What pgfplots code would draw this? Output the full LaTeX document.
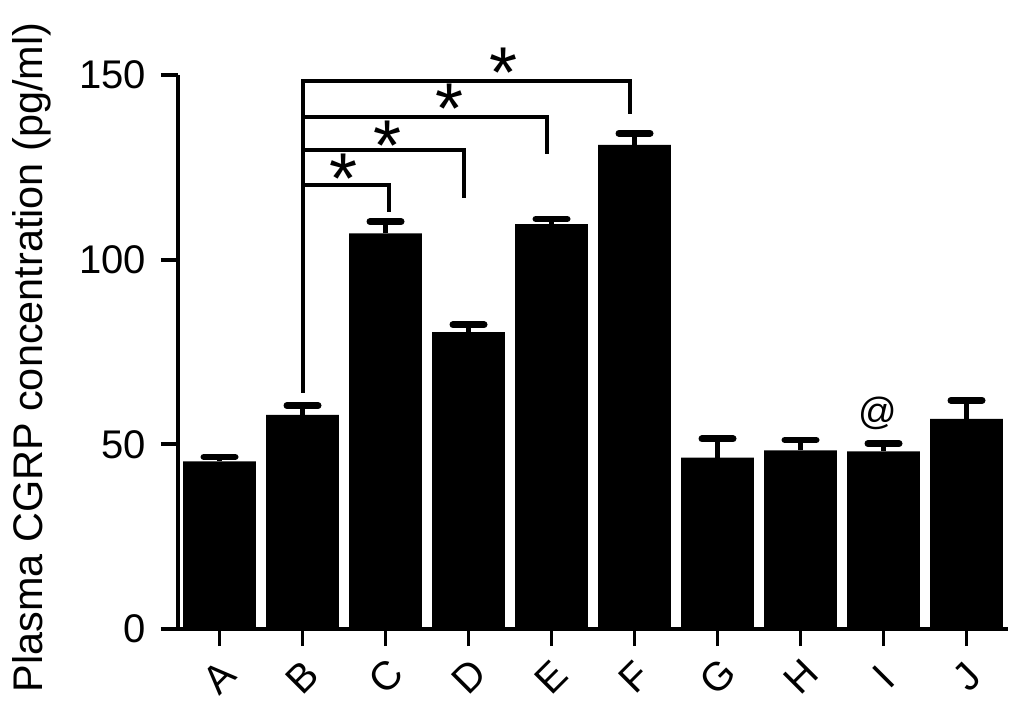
\documentclass[border=0pt]{standalone}
\usepackage{fontspec}
\setmainfont{Liberation Sans}
\usepackage{pgfplots}
\usepackage{pgfplotstable}
\pgfplotsset{compat=1.18}

% group, mean, upper error
\pgfplotstableread{
x y e
0 45.4 1.2
1 58.0 2.5
2 107.1 3.2
3 80.4 2.0
4 109.6 1.4
5 131.1 3.1
6 46.4 5.1
7 48.4 2.8
8 48.1 2.1
9 56.9 5.0
}\cgrp

\begin{document}
\begin{tikzpicture}
	\begin{axis}[
			scale only axis, width=415pt, height=277pt,
			xmin=-0.5, xmax=9.5, ymin=0, ymax=150,
			axis lines*=left,
			axis line style={line width=1.9pt, black},
			tick align=outside, major tick length=8.5pt,
			every tick/.style={line width=1.9pt, black},
			xtick={0,...,9}, xticklabels={A,B,C,D,E,F,G,H,I,J},
			ytick={0,50,100,150},
			/pgf/number format/assume math mode=true,
			ticklabel style={font=\fontsize{20}{20}\selectfont},
			xticklabel style={rotate=45, anchor=center},
			xticklabel shift=15.5pt,
			yticklabel shift=4pt,
			ylabel={Plasma CGRP concentration (pg/ml)},
			ylabel style={font=\fontsize{20.7}{20.7}\selectfont, at={(axis description cs:-0.152,0.49)}, anchor=south, inner sep=0pt},
			clip=false,
			ybar, bar width=0.876,
			]

		\addplot[fill=black, draw=none,
			error bars/.cd, y dir=plus, y explicit,
			error bar style={line width=2.5pt, draw=black},
			error mark=|,
			error mark options={line width=3.4pt, mark size=7.8pt, draw=black, line cap=round}]
			table[x=x, y=y, y error=e] {\cgrp};

		\draw[line width=2pt] (axis cs:1,64) -- (axis cs:1,148.4) -- (axis cs:4.95,148.4) -- (axis cs:4.95,139.4);
		\draw[line width=2pt] (axis cs:1,138.5) -- (axis cs:3.95,138.5) -- (axis cs:3.95,128.6);
		\draw[line width=2pt] (axis cs:1,129.6) -- (axis cs:2.95,129.6) -- (axis cs:2.95,116.8);
		\draw[line width=2pt] (axis cs:1,120.3) -- (axis cs:2.04,120.3) -- (axis cs:2.04,112.8);

		\node[font=\fontsize{36}{36}\selectfont, yshift=-5.5pt] at (axis cs:3.42,153.6) {*};
		\node[font=\fontsize{36}{36}\selectfont, yshift=-5.5pt] at (axis cs:2.77,143.8) {*};
		\node[font=\fontsize{36}{36}\selectfont, yshift=-5.5pt] at (axis cs:2.03,133.8) {*};
		\node[font=\fontsize{36}{36}\selectfont, yshift=-5.5pt] at (axis cs:1.49,124.8) {*};
		\node[font=\fontsize{19}{19}\selectfont] at (axis cs:7.93,58.5) {@};
	\end{axis}
	\pgfresetboundingbox
	\path[use as bounding box] ([xshift=-89pt,yshift=-42pt]current axis.south west) rectangle ([xshift=7.5pt,yshift=37.5pt]current axis.north east);
\end{tikzpicture}
\end{document}
